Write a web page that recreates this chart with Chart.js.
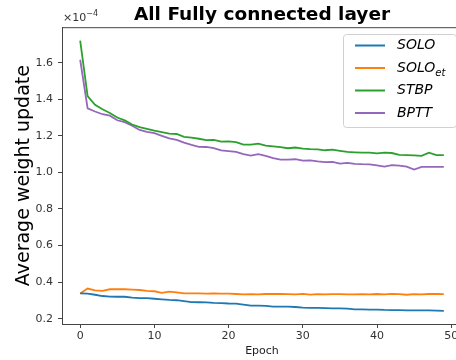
<!DOCTYPE html>
<html>
<head>
<meta charset="utf-8">
<script src="https://cdn.jsdelivr.net/npm/chart.js@4/dist/chart.umd.min.js"></script>
<style>
  html, body { margin: 0; padding: 0; background: #fff; overflow: hidden; }
  #wrap { position: relative; width: 470px; height: 360px; }
</style>
</head>
<body>
<div id="wrap"><canvas id="myChart"></canvas></div>
<script>
// values are in units of 1e-4
const epochs = [0,1,2,3,4,5,6,7,8,9,10,11,12,13,14,15,16,17,18,19,20,21,22,23,24,25,26,27,28,29,30,31,32,33,34,35,36,37,38,39,40,41,42,43,44,45,46,47,48,49]

const solo = [0.338,0.337,0.331,0.324,0.321,0.320,0.320,0.315,0.313,0.312,0.309,0.306,0.303,0.301,0.296,0.291,0.290,0.289,0.286,0.285,0.283,0.282,0.277,0.272,0.272,0.270,0.266,0.266,0.266,0.264,0.261,0.259,0.259,0.258,0.256,0.256,0.255,0.251,0.251,0.250,0.250,0.248,0.247,0.247,0.245,0.246,0.245,0.245,0.244,0.243]

const soloEt = [0.338,0.365,0.355,0.352,0.361,0.361,0.361,0.359,0.357,0.352,0.350,0.341,0.348,0.344,0.339,0.338,0.338,0.337,0.339,0.337,0.337,0.335,0.333,0.334,0.333,0.335,0.335,0.335,0.334,0.333,0.336,0.332,0.334,0.333,0.334,0.334,0.333,0.333,0.334,0.333,0.335,0.333,0.336,0.334,0.331,0.334,0.333,0.335,0.335,0.334]

const stbp = [1.720,1.417,1.370,1.345,1.325,1.300,1.285,1.262,1.248,1.238,1.228,1.220,1.212,1.210,1.194,1.190,1.184,1.176,1.178,1.168,1.170,1.166,1.152,1.152,1.157,1.146,1.142,1.138,1.132,1.136,1.130,1.127,1.126,1.121,1.124,1.118,1.112,1.110,1.108,1.108,1.104,1.108,1.106,1.096,1.095,1.093,1.090,1.108,1.094,1.094]

const bptt = [1.616,1.350,1.333,1.318,1.310,1.285,1.275,1.255,1.232,1.222,1.215,1.200,1.186,1.178,1.163,1.150,1.140,1.139,1.133,1.120,1.116,1.112,1.100,1.092,1.100,1.090,1.078,1.070,1.070,1.072,1.064,1.066,1.060,1.056,1.058,1.048,1.052,1.047,1.045,1.044,1.038,1.032,1.040,1.037,1.032,1.015,1.030,1.030,1.030,1.030]

const xTicks = [0, 10, 20, 30, 40, 50]
const yTicks = [0.2, 0.4, 0.6, 0.8, 1.0, 1.2, 1.4, 1.6]

const colors = ['#1f77b4', '#ff7f0e', '#2ca02c', '#9467bd']

const makeSet = (label, data, color) => ({
    label: label,
    data: data,
    borderColor: color,
    backgroundColor: color,
    borderWidth: 1.8,
    pointRadius: 0,
    tension: 0,
    fill: false
})

// box around the plot, the x10^-4 marker and the legend
const extras = {
    id: 'extras',
    afterDraw(chart) {
        const ctx = chart.ctx
        const a = chart.chartArea
        ctx.save()
        ctx.strokeStyle = '#444'
        ctx.lineWidth = 1
        ctx.beginPath()
        ctx.moveTo(a.left, a.top + 0.5)
        ctx.lineTo(a.right, a.top + 0.5)
        ctx.stroke()

        ctx.fillStyle = '#333'
        ctx.textBaseline = 'alphabetic'
        ctx.font = '11px "DejaVu Sans"'
        ctx.fillText('×10', a.left + 1, 21)
        const w = ctx.measureText('×10').width
        ctx.font = '8px "DejaVu Sans"'
        ctx.fillText('−4', a.left + 1 + w, 16)

        // legend
        const lx = 343, ly = 34, lw = 113, lh = 93
        ctx.beginPath()
        ctx.roundRect(lx + 0.5, ly + 0.5, lw, lh, 3)
        ctx.fillStyle = 'rgba(255,255,255,0.8)'
        ctx.fill()
        ctx.strokeStyle = '#d0d0d0'
        ctx.stroke()
        chart.data.datasets.forEach((ds, i) => {
            const y = 45.5 + i * 22.5
            ctx.strokeStyle = ds.borderColor
            ctx.lineWidth = 2
            ctx.beginPath()
            ctx.moveTo(355, y)
            ctx.lineTo(385, y)
            ctx.stroke()
            const parts = ds.label.split('_')
            ctx.fillStyle = '#000'
            ctx.textBaseline = 'middle'
            ctx.font = 'italic 14px "DejaVu Sans"'
            ctx.fillText(parts[0], 397, y)
            if (parts[1]) {
                const pw = ctx.measureText(parts[0]).width
                ctx.font = 'italic 10px "DejaVu Sans"'
                ctx.fillText(parts[1], 397 + pw, y + 5)
            }
        })
        ctx.restore()
    }
}

const ctx = document.getElementById('myChart')

new Chart(ctx, {
    type: 'line',
    data: {
        labels: epochs,
        datasets: [
            makeSet('SOLO', solo, colors[0]),
            makeSet('SOLO_et', soloEt, colors[1]),
            makeSet('STBP', stbp, colors[2]),
            makeSet('BPTT', bptt, colors[3])
        ]
    },
    options: {
        responsive: true,
        maintainAspectRatio: false,
        animation: false,
        layout: { padding: { left: 0, right: 8, top: 0, bottom: 0 } },
        plugins: {
            legend: { display: false },
            tooltip: { enabled: false },
            title: {
                display: true,
                fullSize: false,
                text: 'All Fully connected layer',
                color: '#000',
                font: { family: 'DejaVu Sans', size: 18.5, weight: 'bold' },
                padding: { top: 4, bottom: 1 }
            }
        },
        scales: {
            x: {
                type: 'linear',
                min: -2.45,
                max: 51.45,
                afterBuildTicks: s => { s.ticks = xTicks.map(v => ({ value: v })) },
                afterFit: s => { s.height = 36 },
                grid: { drawOnChartArea: false, drawTicks: true, tickLength: 4, tickColor: '#444' },
                border: { display: true, color: '#444', width: 1 },
                ticks: {
                    color: '#333',
                    padding: 2,
                    maxRotation: 0,
                    font: { family: 'DejaVu Sans', size: 11 },
                    callback: v => String(v)
                },
                title: {
                    display: true,
                    text: 'Epoch',
                    color: '#222',
                    font: { family: 'DejaVu Sans', size: 11 },
                    padding: { top: 0, bottom: 2 }
                }
            },
            y: {
                min: 0.171,
                max: 1.794,
                afterBuildTicks: s => { s.ticks = yTicks.map(v => ({ value: v })) },
                afterFit: s => { s.width = 62 },
                grid: { drawOnChartArea: false, drawTicks: true, tickLength: 4, tickColor: '#444' },
                border: { display: true, color: '#444', width: 1 },
                ticks: {
                    color: '#333',
                    padding: 5,
                    font: { family: 'DejaVu Sans', size: 11 },
                    callback: v => v.toFixed(1)
                },
                title: {
                    display: true,
                    text: 'Average weight update',
                    color: '#000',
                    font: { family: 'DejaVu Sans', size: 19 },
                    padding: { top: 13, bottom: 0 }
                }
            }
        }
    },
    plugins: [extras]
})
</script>
</body>
</html>
